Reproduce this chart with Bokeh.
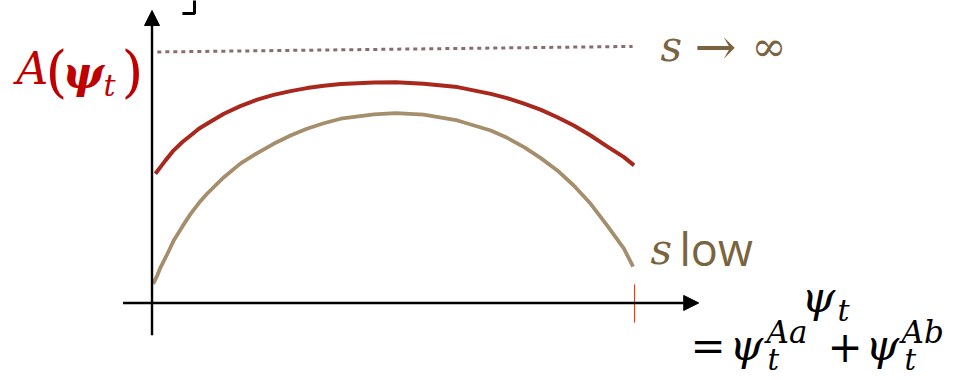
from bokeh.plotting import figure
from bokeh.models import Range1d, Arrow, NormalHead, Label
from bokeh.embed import file_html
from bokeh.resources import INLINE

# ---- data (psi in % of its range, A in % of the s->inf level) ----
psi_red = [0.7, 2.8, 4.5, 6.3, 8.0, 9.7, 11.4, 14.9, 18.3, 21.8, 25.2, 28.7, 32.1, 35.6, 39.1,
           46.0, 50.5, 56.3, 63.3, 70.2, 73.6, 77.1, 80.5, 84.0, 87.4, 90.9, 94.3, 97.8, 99.9]
A_red   = [51.5, 56.8, 60.8, 64.1, 66.7, 69.4, 71.4, 75.4, 78.4, 81.0, 82.9, 84.4, 85.6, 86.5, 87.2,
           87.8, 87.9, 87.3, 86.0, 83.3, 81.6, 79.4, 77.0, 74.0, 70.7, 66.7, 62.4, 58.1, 54.8]
psi_tan = [0.25, 1.1, 1.8, 3.2, 4.5, 6.3, 8.0, 9.7, 11.4, 14.9, 18.3, 21.8, 25.2, 28.7, 32.1, 35.6,
           39.1, 46.0, 50.5, 56.3, 63.3, 70.2, 73.6, 77.1, 80.5, 84.0, 87.4, 90.9, 94.3, 97.8, 99.7]
A_tan   = [7.6, 11.0, 14.3, 19.6, 24.9, 30.5, 35.5, 39.8, 43.5, 50.1, 55.5, 59.7, 63.4, 66.7, 69.4, 71.6,
           73.4, 75.1, 75.6, 75.0, 72.7, 68.7, 65.8, 62.1, 57.8, 52.8, 46.8, 39.5, 30.9, 21.6, 14.5]
psi_inf = [1.1, 99.6]
A_inf   = [100.0, 102.2]
psi_mark = [100.0, 100.0]
A_mark   = [7.4, -7.8]
bracket_x = [6.3, 8.8, 8.8]
bracket_y = [115.3, 115.3, 121.0]

W, H = 967, 380
p = figure(width=W, height=H, output_backend="svg", toolbar_location=None,
           x_range=Range1d(-31.4, 169.0), y_range=Range1d(-30.9, 120.5),
           min_border=0, outline_line_color=None)
p.xaxis.visible = False
p.yaxis.visible = False
p.grid.visible = False
p.background_fill_color = "white"
p.border_fill_color = "white"

# axes with arrow heads
p.add_layout(Arrow(x_start=0, y_start=-12.9, x_end=0, y_end=116.5, line_width=2.4, line_color="black",
                   end=NormalHead(size=15, fill_color="black", line_color="black")))
p.add_layout(Arrow(x_start=-6.0, y_start=0, x_end=113.3, y_end=0, line_width=2.4, line_color="black",
                   end=NormalHead(size=15, fill_color="black", line_color="black")))

# curves
p.line(psi_inf, A_inf, line_color="#8C6A6E", line_width=3, line_dash="4 4")
p.line(psi_red, A_red, line_color="#A8281E", line_width=4, line_join="round")
p.line(psi_tan, A_tan, line_color="#A58E6C", line_width=3.8, line_join="round")
p.line(psi_mark, A_mark, line_color="#E04010", line_width=1.2)
p.line(bracket_x, bracket_y, line_color="black", line_width=3)

SERIF = "DejaVu Serif"
K = 0.34  # baseline correction (fraction of font size)

def lab(text, ix, iy, size, color="black", style="italic", font=SERIF):
    p.add_layout(Label(x=ix, y=H - (iy - K * size), x_units="screen", y_units="screen", text=text,
                       text_font=font, text_font_size=f"{size}px", text_font_style=style,
                       text_color=color, text_baseline="alphabetic", text_align="left"))

RED = "#C00000"
lab("A", 16, 83, 44, RED)
lab("(", 45, 90, 56, RED, "normal")
lab("ψ", 62, 87, 44, RED, "bold italic")
lab("t", 103, 95, 30, RED)
lab(")", 121, 90, 56, RED, "normal")

BROWN = "#7A6440"
lab("s", 660, 60, 42, BROWN)
lab("→", 694, 63, 50, BROWN, "normal")
lab("∞", 751, 60, 42, BROWN, "normal")
lab("s", 650, 263, 42, BROWN)
lab("low", 679, 263, 45, BROWN, "normal", "Open Sans")

lab("ψ", 801, 311, 43)
lab("t", 837, 320, 30)
lab("=", 690, 360, 42, "black", "normal")
lab("ψ", 729, 359, 43)
lab("Aa", 766, 342, 31)
lab("t", 767, 369, 29)
lab("+", 827, 360, 42, "black", "normal")
lab("ψ", 865, 359, 43)
lab("Ab", 901, 342, 31)
lab("t", 904, 369, 29)

open("out.html", "w").write(file_html(p, INLINE))
